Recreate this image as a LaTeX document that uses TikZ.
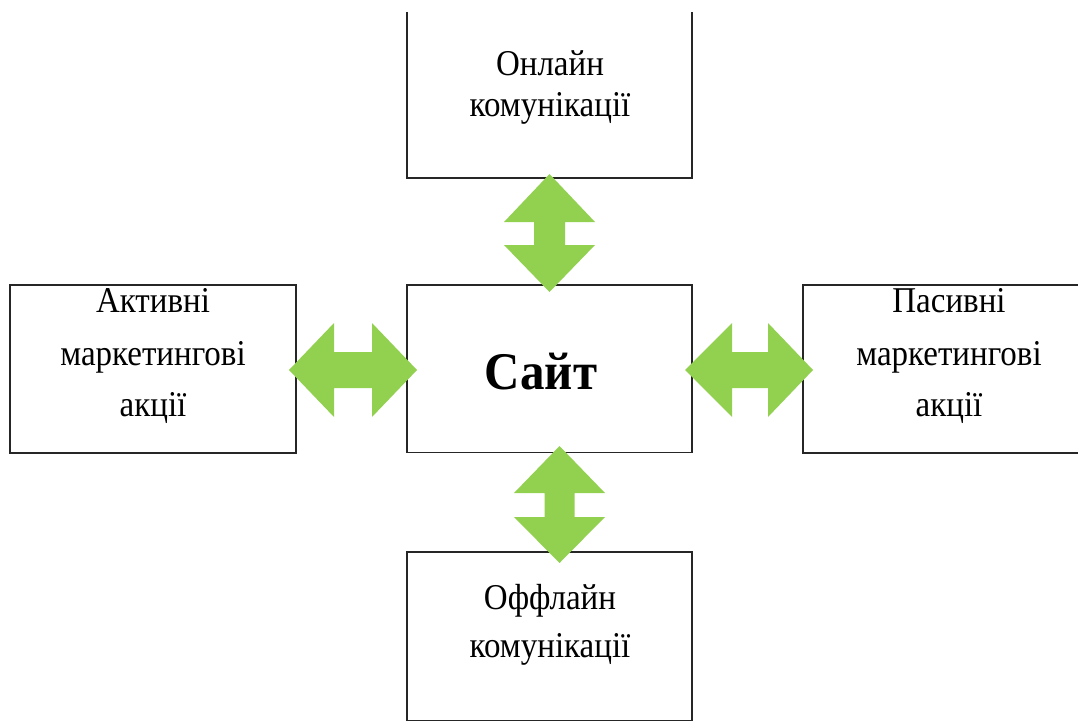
\documentclass[tikz,border=0pt]{standalone}
\usepackage{fontspec}
\setmainfont{Liberation Serif}
\definecolor{arrowgreen}{HTML}{92D050}
\definecolor{boxline}{HTML}{262626}
% text set slightly taller than its natural shape
\newcommand\tallA[1]{\scalebox{1}[1.1]{#1}}
\newcommand\tallB[1]{\scalebox{1}[1.08]{#1}}
\tikzset{
  box/.style={draw=boxline, line width=1.5pt, fill=white, inner sep=0pt},
  openbox/.style={draw=none, inner sep=0pt},
  label/.style={anchor=base, inner sep=0pt, font=\fontsize{33}{40}\selectfont},
  title/.style={anchor=base, inner sep=0pt, font=\fontsize{49}{58}\selectfont\bfseries},
  dblarrow/.style={fill=arrowgreen, draw=none}
}
\begin{document}
\begin{tikzpicture}[x=1pt, y=-1pt]
  \useasboundingbox (0,0) rectangle (1078,722);
  \clip (0,0) rectangle (1078,722);

  % boxes
  \node[openbox, minimum width=285pt, minimum height=166pt] (online) at (549.5,95) {};
  \draw[draw=boxline, line width=1.5pt]
    (online.north west) -- (online.south west) -- (online.south east) -- (online.north east);
  \node[box, minimum width=285pt, minimum height=167.5pt] (site)    at (549.5,368.75) {};
  \node[box, minimum width=286pt, minimum height=168pt]   (active)  at (153,369) {};
  \node[box, minimum width=290pt, minimum height=168pt]   (passive) at (948,369) {};
  \node[box, minimum width=285pt, minimum height=168.5pt] (offline) at (549.5,636.25) {};

  % captions
  \node[label] (on1) at (550,76)  {\tallA{Онлайн}};
  \node[label] (on2) at (550,117) {\tallA{комунікації}};

  \node[title] (sitename) at (541,389) {\tallB{Сайт}};

  \node[label] (ac1) at (153,312) {\tallA{Активні}};
  \node[label] (ac2) at (153,365) {\tallA{маркетингові}};
  \node[label] (ac3) at (153,416) {\tallA{акції}};

  \node[label] (pa1) at (949,312) {\tallA{Пасивні}};
  \node[label] (pa2) at (949,365) {\tallA{маркетингові}};
  \node[label] (pa3) at (949,416) {\tallA{акції}};

  \node[label] (of1) at (550,609) {\tallA{Оффлайн}};
  \node[label] (of2) at (550,657) {\tallA{комунікації}};

  % two-headed arrows between the site and the channels
  \fill[dblarrow] (549.5,174) -- (595,222) -- (565,222) -- (565,245) -- (595,245)
    -- (549.5,292) -- (504,245) -- (534,245) -- (534,222) -- (504,222) -- cycle;
  \fill[dblarrow] (559.5,446) -- (605,493) -- (574.5,493) -- (574.5,517) -- (605,517)
    -- (559.5,563) -- (514,517) -- (544.5,517) -- (544.5,493) -- (514,493) -- cycle;
  \fill[dblarrow] (289,370) -- (334,323) -- (334,352) -- (372,352) -- (372,323)
    -- (417,370) -- (372,417) -- (372,388) -- (334,388) -- (334,417) -- cycle;
  \fill[dblarrow] (685,370) -- (732,323) -- (732,352) -- (768,352) -- (768,323)
    -- (813,370) -- (768,417) -- (768,388) -- (732,388) -- (732,417) -- cycle;
\end{tikzpicture}
\end{document}
